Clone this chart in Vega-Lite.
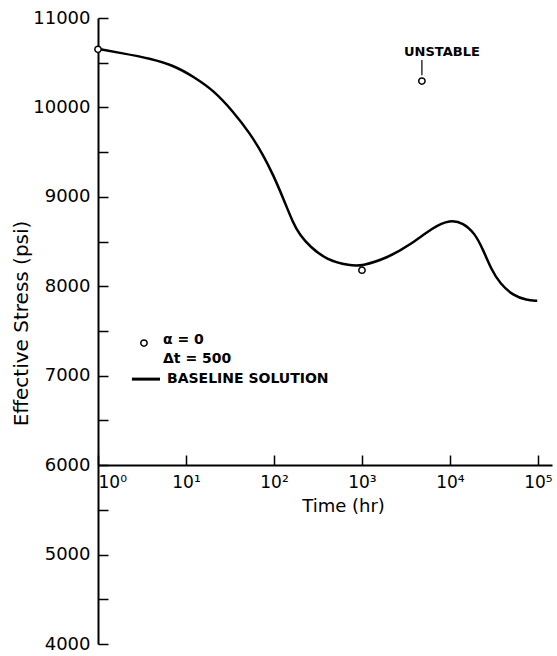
{
  "$schema": "https://vega.github.io/schema/vega-lite/v6.json",
  "width": 454,
  "height": 626,
  "autosize": {"type": "none"},
  "padding": {"left": 98, "top": 18, "right": 5, "bottom": 12},
  "background": "white",
  "config": {"view": {"stroke": null}, "font": "DejaVu Sans"},
  "datasets": {
    "curve": [
      {"t": 1, "v": 10655},
      {"t": 1.78, "v": 10610},
      {"t": 3.9, "v": 10549},
      {"t": 7.84, "v": 10455},
      {"t": 12.1, "v": 10343},
      {"t": 20.4, "v": 10195},
      {"t": 34.5, "v": 9952},
      {"t": 53.4, "v": 9710},
      {"t": 75.6, "v": 9467},
      {"t": 98.2, "v": 9244},
      {"t": 127.6, "v": 8983},
      {"t": 165.6, "v": 8703},
      {"t": 197, "v": 8573},
      {"t": 257, "v": 8442},
      {"t": 400, "v": 8293},
      {"t": 731, "v": 8230},
      {"t": 1000, "v": 8226},
      {"t": 1923, "v": 8315},
      {"t": 3510, "v": 8461},
      {"t": 6410, "v": 8660},
      {"t": 10000, "v": 8745},
      {"t": 14160, "v": 8710},
      {"t": 19230, "v": 8592},
      {"t": 23900, "v": 8405},
      {"t": 29800, "v": 8181},
      {"t": 37000, "v": 8032},
      {"t": 52400, "v": 7895},
      {"t": 74400, "v": 7845},
      {"t": 98200, "v": 7838}
    ],
    "points": [
      {"t": 1, "v": 10650},
      {"t": 1000, "v": 8180},
      {"t": 4800, "v": 10295},
      {"t": 3.33, "v": 7365}
    ],
    "legendLine": [{"t": 2.43, "t2": 5.07, "v": 6962}],
    "arrow": [{"t": 4800, "v": 10530, "v2": 10360}],
    "labels": [
      {"t": 5.48, "v": 7398, "label": "α = 0"},
      {"t": 5.48, "v": 7186, "label": "Δt = 500"},
      {"t": 6.08, "v": 6962, "label": "BASELINE SOLUTION"}
    ],
    "unstable": [{"t": 8110, "v": 10620, "label": "UNSTABLE"}]
  },
  "layer": [
    {
      "data": {"name": "curve"},
      "mark": {"type": "line", "interpolate": "basis", "color": "black", "strokeWidth": 2.5},
      "encoding": {
        "x": {
          "field": "t", "type": "quantitative",
          "scale": {"type": "log", "domain": [1, 144500], "nice": false},
          "axis": {
            "orient": "bottom",
            "offset": -179,
            "values": [1, 10, 100, 1000, 10000, 100000],
            "labelExpr": "'10' + ['⁰','¹','²','³','⁴','⁵'][round(log(datum.value)/LN10)]",
            "labelAlign": {"condition": {"test": "datum.value == 1", "value": "left"}, "value": "center"},
            "tickSize": -10,
            "tickWidth": 1.5,
            "tickColor": "black",
            "domainColor": "black",
            "domainWidth": 2,
            "labelColor": "black",
            "labelFont": "DejaVu Sans",
            "labelFontSize": 17,
            "labelPadding": 19,
            "grid": false,
            "title": "Time (hr)",
            "titleFont": "DejaVu Sans",
            "titleFontSize": 18,
            "titleFontWeight": "normal",
            "titleColor": "black",
            "titleX": 245,
            "titleY": 32,
            "titleAlign": "center"
          }
        },
        "y": {
          "field": "v", "type": "quantitative",
          "scale": {"domain": [4000, 11000], "nice": false, "zero": false},
          "axis": {
            "values": [4000, 4500, 5000, 5500, 6000, 6500, 7000, 7500, 8000, 8500, 9000, 9500, 10000, 10500, 11000],
            "labelExpr": "datum.value % 1000 == 0 ? format(datum.value, 'd') : ''",
            "tickSize": -10,
            "tickWidth": 1.5,
            "tickColor": "black",
            "domainColor": "black",
            "domainWidth": 2,
            "labelColor": "black",
            "labelFont": "DejaVu Sans",
            "labelFontSize": 18,
            "labelPadding": 18,
            "grid": false,
            "title": "Effective Stress (psi)",
            "titleFont": "DejaVu Sans",
            "titleFontSize": 20,
            "titleFontWeight": "normal",
            "titleColor": "black",
            "titleX": -67,
            "titleY": 305,
            "titleAlign": "center"
          }
        }
      }
    },
    {
      "data": {"name": "points"},
      "mark": {"type": "point", "shape": "circle", "filled": true, "fill": "white", "stroke": "black", "strokeWidth": 1.5, "size": 40, "opacity": 1},
      "encoding": {
        "x": {"field": "t", "type": "quantitative"},
        "y": {"field": "v", "type": "quantitative"}
      }
    },
    {
      "data": {"name": "legendLine"},
      "mark": {"type": "rule", "color": "black", "strokeWidth": 3},
      "encoding": {
        "x": {"field": "t", "type": "quantitative"},
        "x2": {"field": "t2"},
        "y": {"field": "v", "type": "quantitative"}
      }
    },
    {
      "data": {"name": "arrow"},
      "mark": {"type": "rule", "color": "black", "strokeWidth": 1.2},
      "encoding": {
        "x": {"field": "t", "type": "quantitative"},
        "y": {"field": "v", "type": "quantitative"},
        "y2": {"field": "v2"}
      }
    },
    {
      "data": {"name": "labels"},
      "mark": {"type": "text", "align": "left", "baseline": "middle", "font": "DejaVu Sans", "fontSize": 14, "fontWeight": "bold", "color": "black"},
      "encoding": {
        "x": {"field": "t", "type": "quantitative"},
        "y": {"field": "v", "type": "quantitative"},
        "text": {"field": "label"}
      }
    },
    {
      "data": {"name": "unstable"},
      "mark": {"type": "text", "align": "center", "baseline": "middle", "font": "DejaVu Sans", "fontSize": 13, "fontWeight": "bold", "color": "black"},
      "encoding": {
        "x": {"field": "t", "type": "quantitative"},
        "y": {"field": "v", "type": "quantitative"},
        "text": {"field": "label"}
      }
    }
  ]
}
